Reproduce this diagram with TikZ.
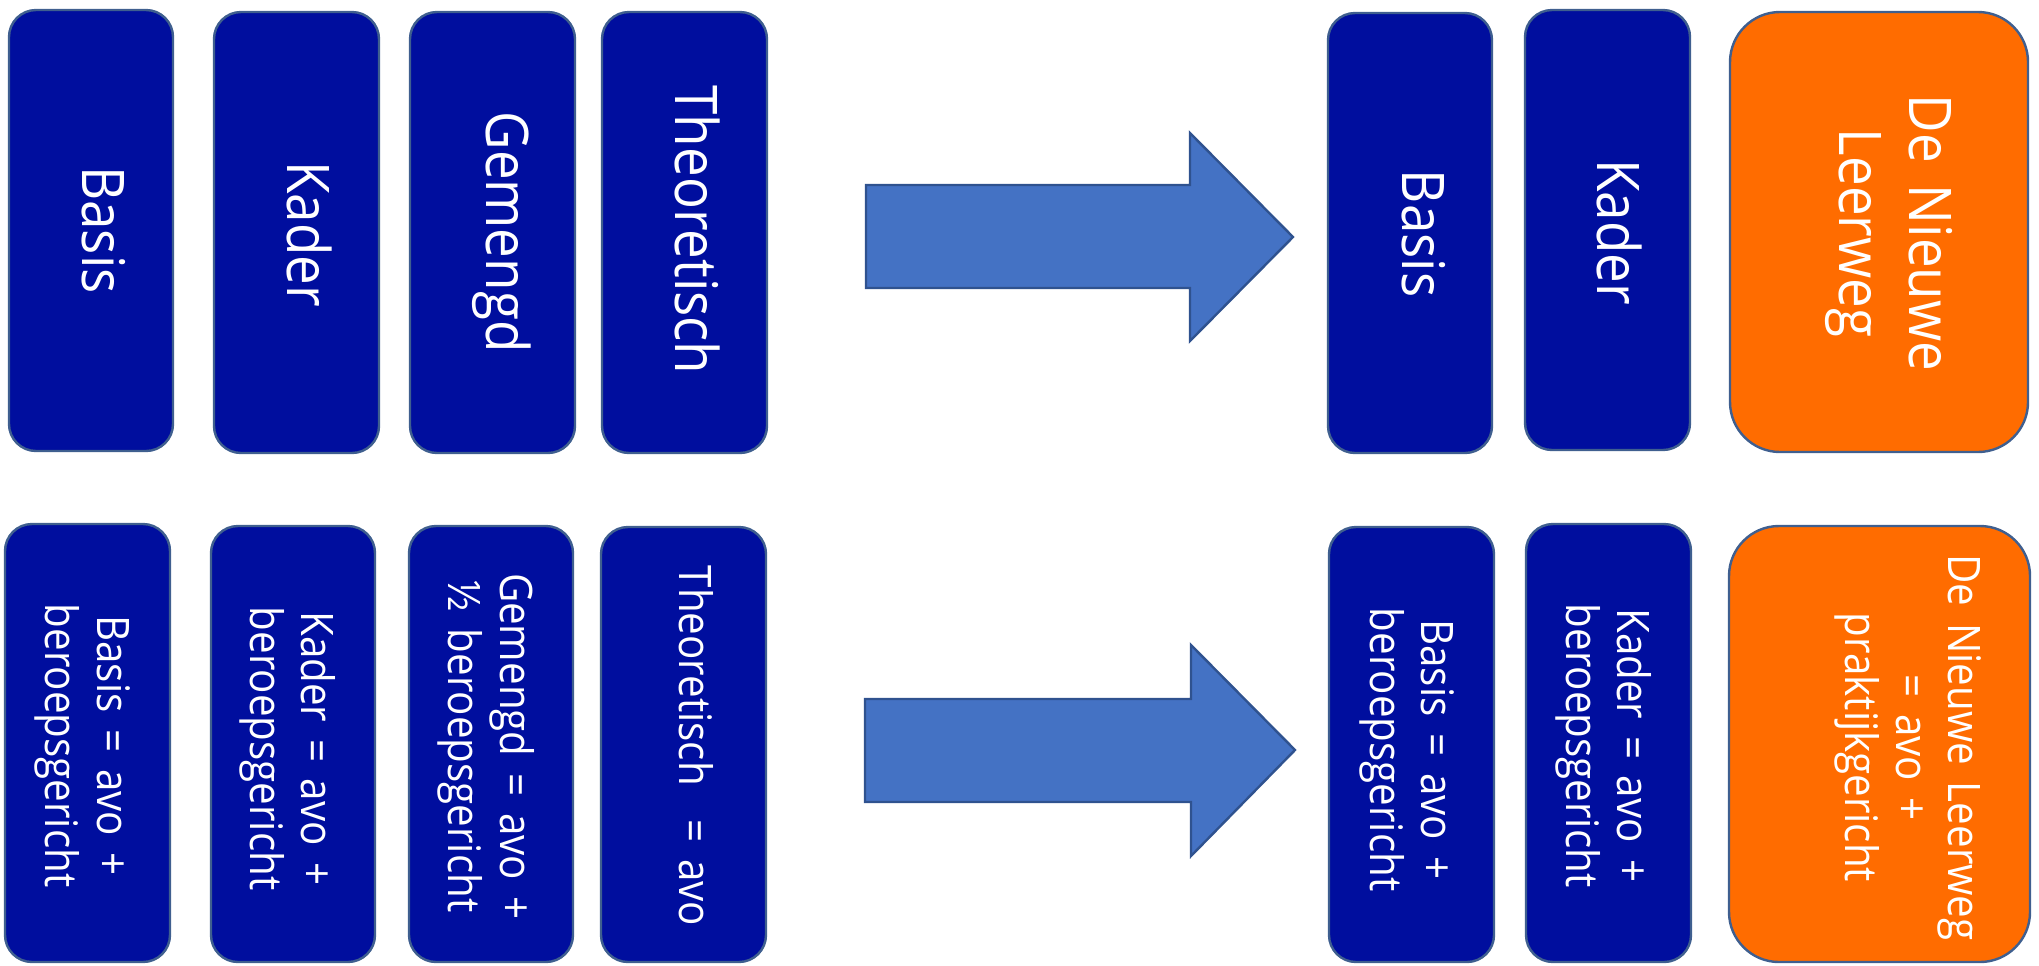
\documentclass[tikz,border=0pt]{standalone}
\usepackage{fontspec}
\setmainfont{Open Sans}[FakeStretch=0.9,WordSpace=1.6]
\usetikzlibrary{fit}
\definecolor{boxblue}{HTML}{000E9E}
\definecolor{boxedge}{HTML}{3F5F8F}
\definecolor{orangefill}{HTML}{FF6C00}
\definecolor{arrowfill}{HTML}{4472C4}
\definecolor{arrowedge}{HTML}{2F528F}
\begin{document}
\begin{tikzpicture}[x=0.5pt,y=-0.5pt,
  bluebox/.style={draw=boxedge, line width=1.2pt, fill=boxblue, rounded corners=13.5pt, inner sep=0pt},
  orangebox/.style={draw=boxedge, line width=1.2pt, fill=orangefill, rounded corners=25pt, inner sep=0pt},
  toplabel/.style={text=white, rotate=-90, inner sep=0pt, align=center, font=\fontsize{29.4}{35}\selectfont},
  botlabel/.style={text=white, rotate=-90, inner sep=0pt, align=center, font=\fontsize{22.4}{25.8}\selectfont},
  blockarrow/.style={draw=arrowedge, line width=1.2pt, fill=arrowfill, line join=miter}]
\useasboundingbox (0,0) rectangle (2039,965);

% ---------- top row ----------
\node[bluebox, fit={(9,10) (173,451)}] (t1) {};
\node[bluebox, fit={(214,12) (379,453)}] (t2) {};
\node[bluebox, fit={(410,12) (575,453)}] (t3) {};
\node[bluebox, fit={(602,12) (767,453)}] (t4) {};
\node[bluebox, fit={(1328,13) (1492,453)}] (t5) {};
\node[bluebox, fit={(1525,10) (1690,450)}] (t6) {};
\node[orangebox, fit={(1730,12) (2028,452)}] (t7) {};

\node[toplabel] (t1l) at (103.5,230) {Basis};
\node[toplabel] (t2l) at (309.5,234) {Kader};
\node[toplabel] (t3l) at (502,232) {Gemengd};
\node[toplabel] (t4l) at (698,230) {Theoretisch};
\node[toplabel] (t5l) at (1423.5,233.5) {Basis};
\node[toplabel] (t6l) at (1620,232) {Kader};
\node[toplabel] (t7l) at (1888.5,233) {De Nieuwe\\Leerweg};

% ---------- bottom row ----------
\node[bluebox, fit={(5,524) (170,962)}] (b1) {};
\node[bluebox, fit={(211,526) (375,962)}] (b2) {};
\node[bluebox, fit={(409,526) (573,962)}] (b3) {};
\node[bluebox, fit={(601,527) (766,962)}] (b4) {};
\node[bluebox, fit={(1329,527) (1494,962)}] (b5) {};
\node[bluebox, fit={(1526,524) (1691,962)}] (b6) {};
\node[orangebox, fit={(1729,526) (2030,962)}] (b7) {};

\node[botlabel] (b1l) at (82.5,745.5) {Basis = avo +\\beroepsgericht};
\node[botlabel] (b2l) at (287.5,748.5) {Kader = avo +\\beroepsgericht};
\node[botlabel] (b3l) at (486,746.5) {Gemengd = avo +\\½ beroepsgericht};
\node[botlabel] (b4l) at (696,746) {Theoretisch\ \ = avo};
\node[botlabel] (b5l) at (1407,749.5) {Basis = avo +\\beroepsgericht};
\node[botlabel] (b6l) at (1603.5,745.5) {Kader = avo +\\beroepsgericht};
\node[botlabel] (b7l) at (1908,747.5) {De Nieuwe Leerweg\\= avo +\\praktijkgericht};

% ---------- block arrows ----------
\draw[blockarrow] (866,185) -- (1190,185) -- (1190,133) -- (1293,237)
  -- (1190,341) -- (1190,288) -- (866,288) -- cycle;
\draw[blockarrow] (865,699) -- (1191,699) -- (1191,645) -- (1295,750)
  -- (1191,856) -- (1191,802) -- (865,802) -- cycle;
\end{tikzpicture}
\end{document}
